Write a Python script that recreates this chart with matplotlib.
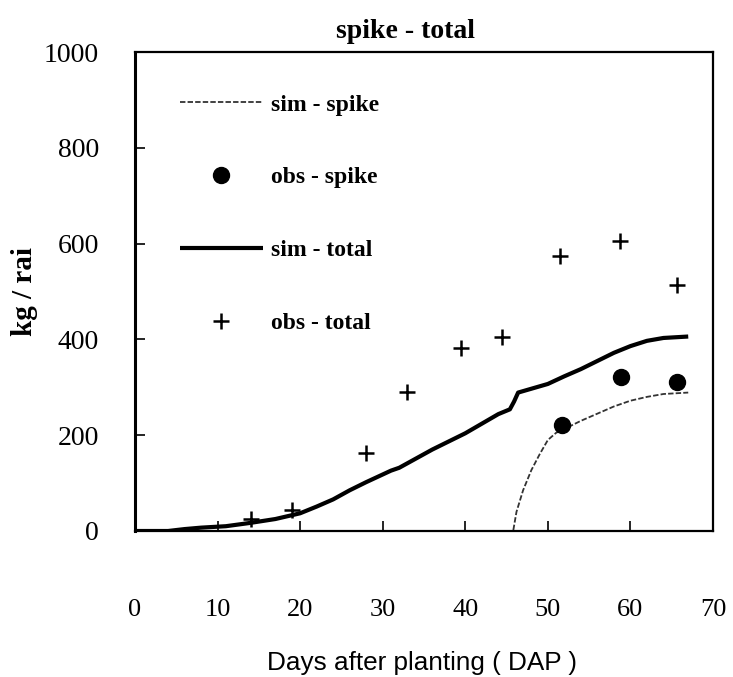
import matplotlib
matplotlib.use("Agg")
import matplotlib.pyplot as plt

# Simulated total above-ground dry matter (kg/rai) vs days after planting
total_days = [0, 4, 6, 8, 11, 14, 17, 20, 22, 24, 26, 28, 30, 31, 32, 34, 36, 38,
              40, 42, 44, 45.4, 45.9, 46.4, 48, 50, 52, 54, 56, 58, 60, 62, 64, 67]
total_sim = [0, 0, 4, 7, 10, 17, 25, 37, 51, 66, 85, 102, 118, 126, 132, 151, 170, 187,
             204, 224, 244, 254, 270, 289, 297, 307, 323, 338, 355, 372, 386, 397, 403, 406]

# Simulated spike dry matter
spike_days = [0, 45.8, 46.2, 47, 48, 49, 50, 51, 52, 54, 56, 58, 60, 62, 64, 67]
spike_sim = [0, 0, 40, 85, 127, 160, 190, 205, 213, 230, 245, 260, 272, 280, 286, 289]

# Observations
obs_total_days = [14, 19, 28, 33, 39.5, 44.5, 51.5, 58.7, 65.7]
obs_total = [25, 44, 163, 290, 383, 404, 574, 605, 514]
obs_spike_days = [51.7, 58.8, 65.7]
obs_spike = [221, 321, 312]

x_ticks = [0, 10, 20, 30, 40, 50, 60, 70]
y_ticks = [0, 200, 400, 600, 800, 1000]

serif = "Liberation Serif"
sans = "Liberation Sans"

fig = plt.figure(figsize=(7.33, 6.77), dpi=100)
ax = fig.add_axes([135 / 733, 1 - 531 / 677, 578 / 733, 479 / 677])

ax.plot(spike_days, spike_sim, color="#333333", lw=1.3, ls=(0, (3, 1.2)),
        label="sim - spike")
ax.plot(obs_spike_days, obs_spike, "o", color="black", ms=11.5, label="obs - spike")
ax.plot(total_days, total_sim, color="black", lw=3, solid_capstyle="butt",
        label="sim - total")
ax.plot(obs_total_days, obs_total, "+", color="black", ms=12, mew=1.8,
        label="obs - total")

ax.set_xlim(0, 70)
ax.set_ylim(0, 1000)
ax.set_xticks(x_ticks)
ax.set_yticks(y_ticks)
ax.tick_params(direction="in", length=7, width=1.2)
ax.tick_params(axis="x", pad=49, labelsize=19)
ax.tick_params(axis="y", pad=26, labelsize=20)
for lab in ax.get_xticklabels() + ax.get_yticklabels():
    lab.set_fontfamily(serif)

for side, lw in (("left", 2.2), ("bottom", 1.6), ("right", 1.6), ("top", 1.6)):
    ax.spines[side].set_linewidth(lw)

leg = ax.legend(loc="upper left", bbox_to_anchor=(45 / 578, 1 - 42 / 479),
                frameon=False, handlelength=3.5, handletextpad=0.35,
                labelspacing=2.17, borderpad=0, borderaxespad=0,
                prop={"family": serif, "weight": "bold", "size": 17})

fig.text(405 / 733, 1 - 31 / 677, "spike - total", ha="center", va="center",
         family=serif, weight="bold", fontsize=20)
fig.text(422 / 733, 1 - 663 / 677, "Days after planting ( DAP )", ha="center",
         va="center", family=sans, fontsize=18.8)
fig.text(24 / 733, 1 - 292 / 677, "kg / rai", ha="center", va="center",
         rotation=90, family=serif, weight="bold", fontsize=21)

fig.savefig("out.png", dpi=100)
